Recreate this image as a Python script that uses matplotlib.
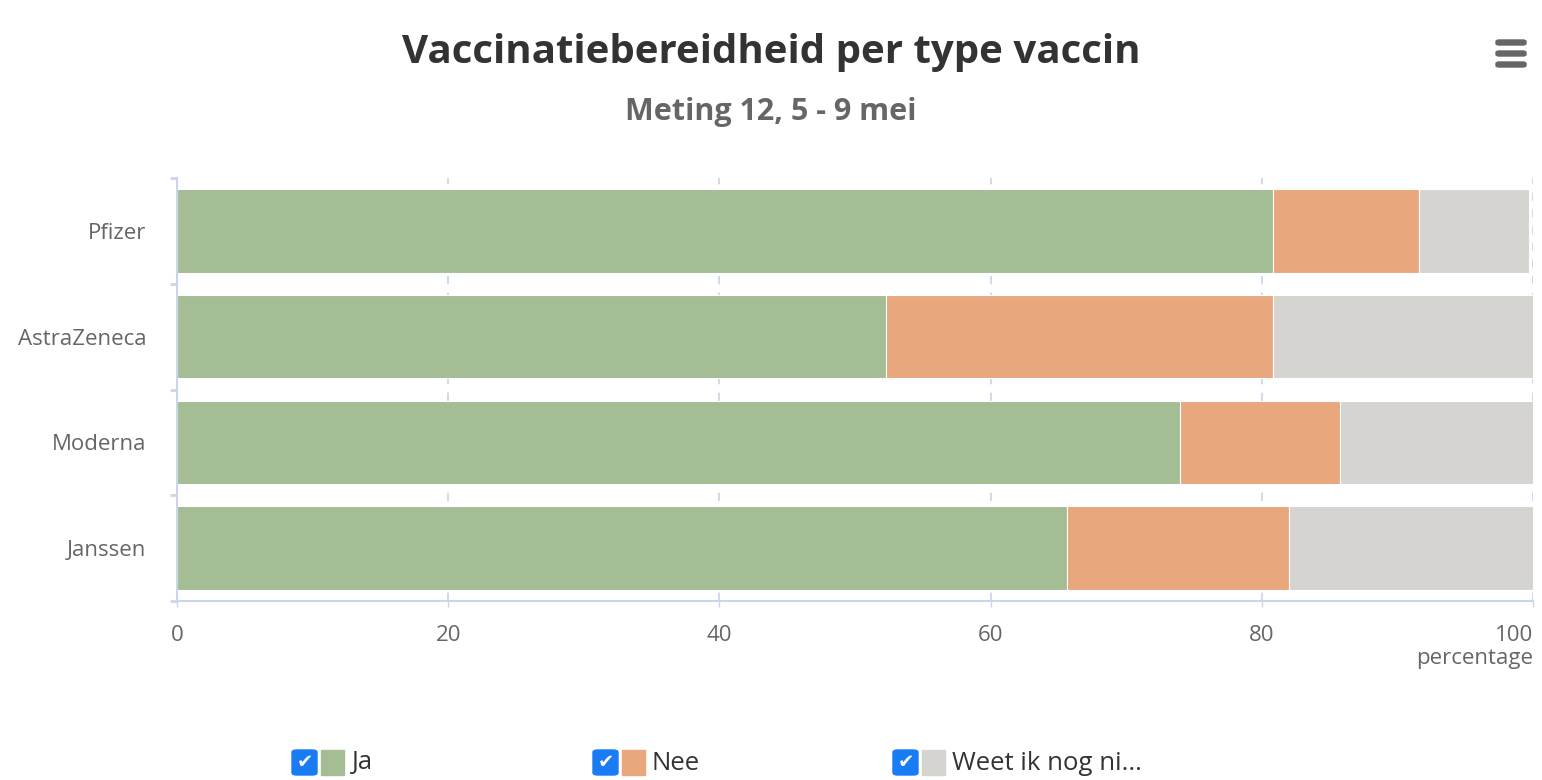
import matplotlib.pyplot as plt
from matplotlib.patches import FancyBboxPatch, Rectangle

# data
vaccins = ['Pfizer', 'AstraZeneca', 'Moderna', 'Janssen']
ja = [80.8, 52.3, 74.0, 65.6]
nee = [10.8, 28.5, 11.8, 16.4]
weet = [8.1, 19.2, 14.2, 18.0]
series = ['Ja', 'Nee', 'Weet ik nog ni...']
colors = ['#a4bd95', '#e8a77d', '#d5d4d0']
xticks = [0, 20, 40, 60, 80, 100]

plt.rcParams['font.family'] = ['Open Sans', 'DejaVu Sans']

fig = plt.figure(figsize=(15.42, 7.8), dpi=100)
ax = fig.add_axes([177/1542, 1 - 601/780, (1533-177)/1542, (601-178)/780])

y = list(range(len(vaccins)))
left = [0] * len(vaccins)
for vals, c in zip([ja, nee, weet], colors):
    ax.barh(y, vals, left=left, height=0.79, color=c, edgecolor='white', linewidth=0.8, zorder=2)
    left = [l + v for l, v in zip(left, vals)]

ax.set_xlim(0, 100)
ax.set_ylim(len(vaccins) - 0.5, -0.5)
ax.set_xticks(xticks)
ax.set_yticks(y)
ax.set_yticklabels(vaccins)
ax.tick_params(axis='y', length=0, pad=22, labelsize=16, labelcolor='#666666')
ax.tick_params(axis='x', length=4, width=1, color='#ccd6eb', labelsize=16, labelcolor='#666666', pad=13)
# laatste label rechts uitlijnen, zoals in highcharts
ax.get_xticklabels()[-1].set_horizontalalignment('right')
# y-ticks op de grenzen tussen categorieën
ax.set_yticks([i - 0.5 for i in range(len(vaccins) + 1)], minor=True)
ax.tick_params(axis='y', which='minor', length=5, width=2, color='#ccd6eb')

ax.grid(axis='x', color='#c8d3e6', linestyle=(0, (5, 5)), linewidth=1.2, zorder=0)
for s in ['top', 'right']:
    ax.spines[s].set_visible(False)
for s in ['left', 'bottom']:
    ax.spines[s].set_color('#ccd6eb')
    ax.spines[s].set_linewidth(1.5)

ax.text(1.0, -0.112, 'percentage', transform=ax.transAxes, ha='right', va='top',
        fontsize=16, color='#666666')

fig.text(771/1542, 1 - 52/780, 'Vaccinatiebereidheid per type vaccin', ha='center', va='center',
         fontsize=29, fontweight='bold', color='#333333')
fig.text(771/1542, 1 - 112/780, 'Meting 12, 5 - 9 mei', ha='center', va='center',
         fontsize=22, fontweight='bold', color='#666666')

# legenda met vinkjes
legend_x = [292, 593, 893]
for x0, name, c in zip(legend_x, series, colors):
    fig.patches.append(FancyBboxPatch((x0/1542, 1 - 775/780), 25/1542, 25/780,
                                      boxstyle='round,pad=0,rounding_size=0.003',
                                      transform=fig.transFigure, color='#1a7cf5'))
    fig.text((x0 + 12.5)/1542, 1 - 762/780, '\u2714', ha='center', va='center',
             fontsize=14, color='white', family=['DejaVu Sans'])
    fig.patches.append(Rectangle(((x0 + 29)/1542, 1 - 775/780), 23/1542, 25/780,
                                 transform=fig.transFigure, color=c))
    fig.text((x0 + 59)/1542, 1 - 763/780, name, ha='left', va='center',
             fontsize=18.5, color='#333333')

# menu-icoon
for yy in [42, 53, 64]:
    fig.patches.append(FancyBboxPatch((1496/1542, 1 - (yy + 3)/780), 30/1542, 5/780,
                                      boxstyle='round,pad=0,rounding_size=0.002',
                                      transform=fig.transFigure, color='#666666'))

fig.savefig('out.png', dpi=100)
